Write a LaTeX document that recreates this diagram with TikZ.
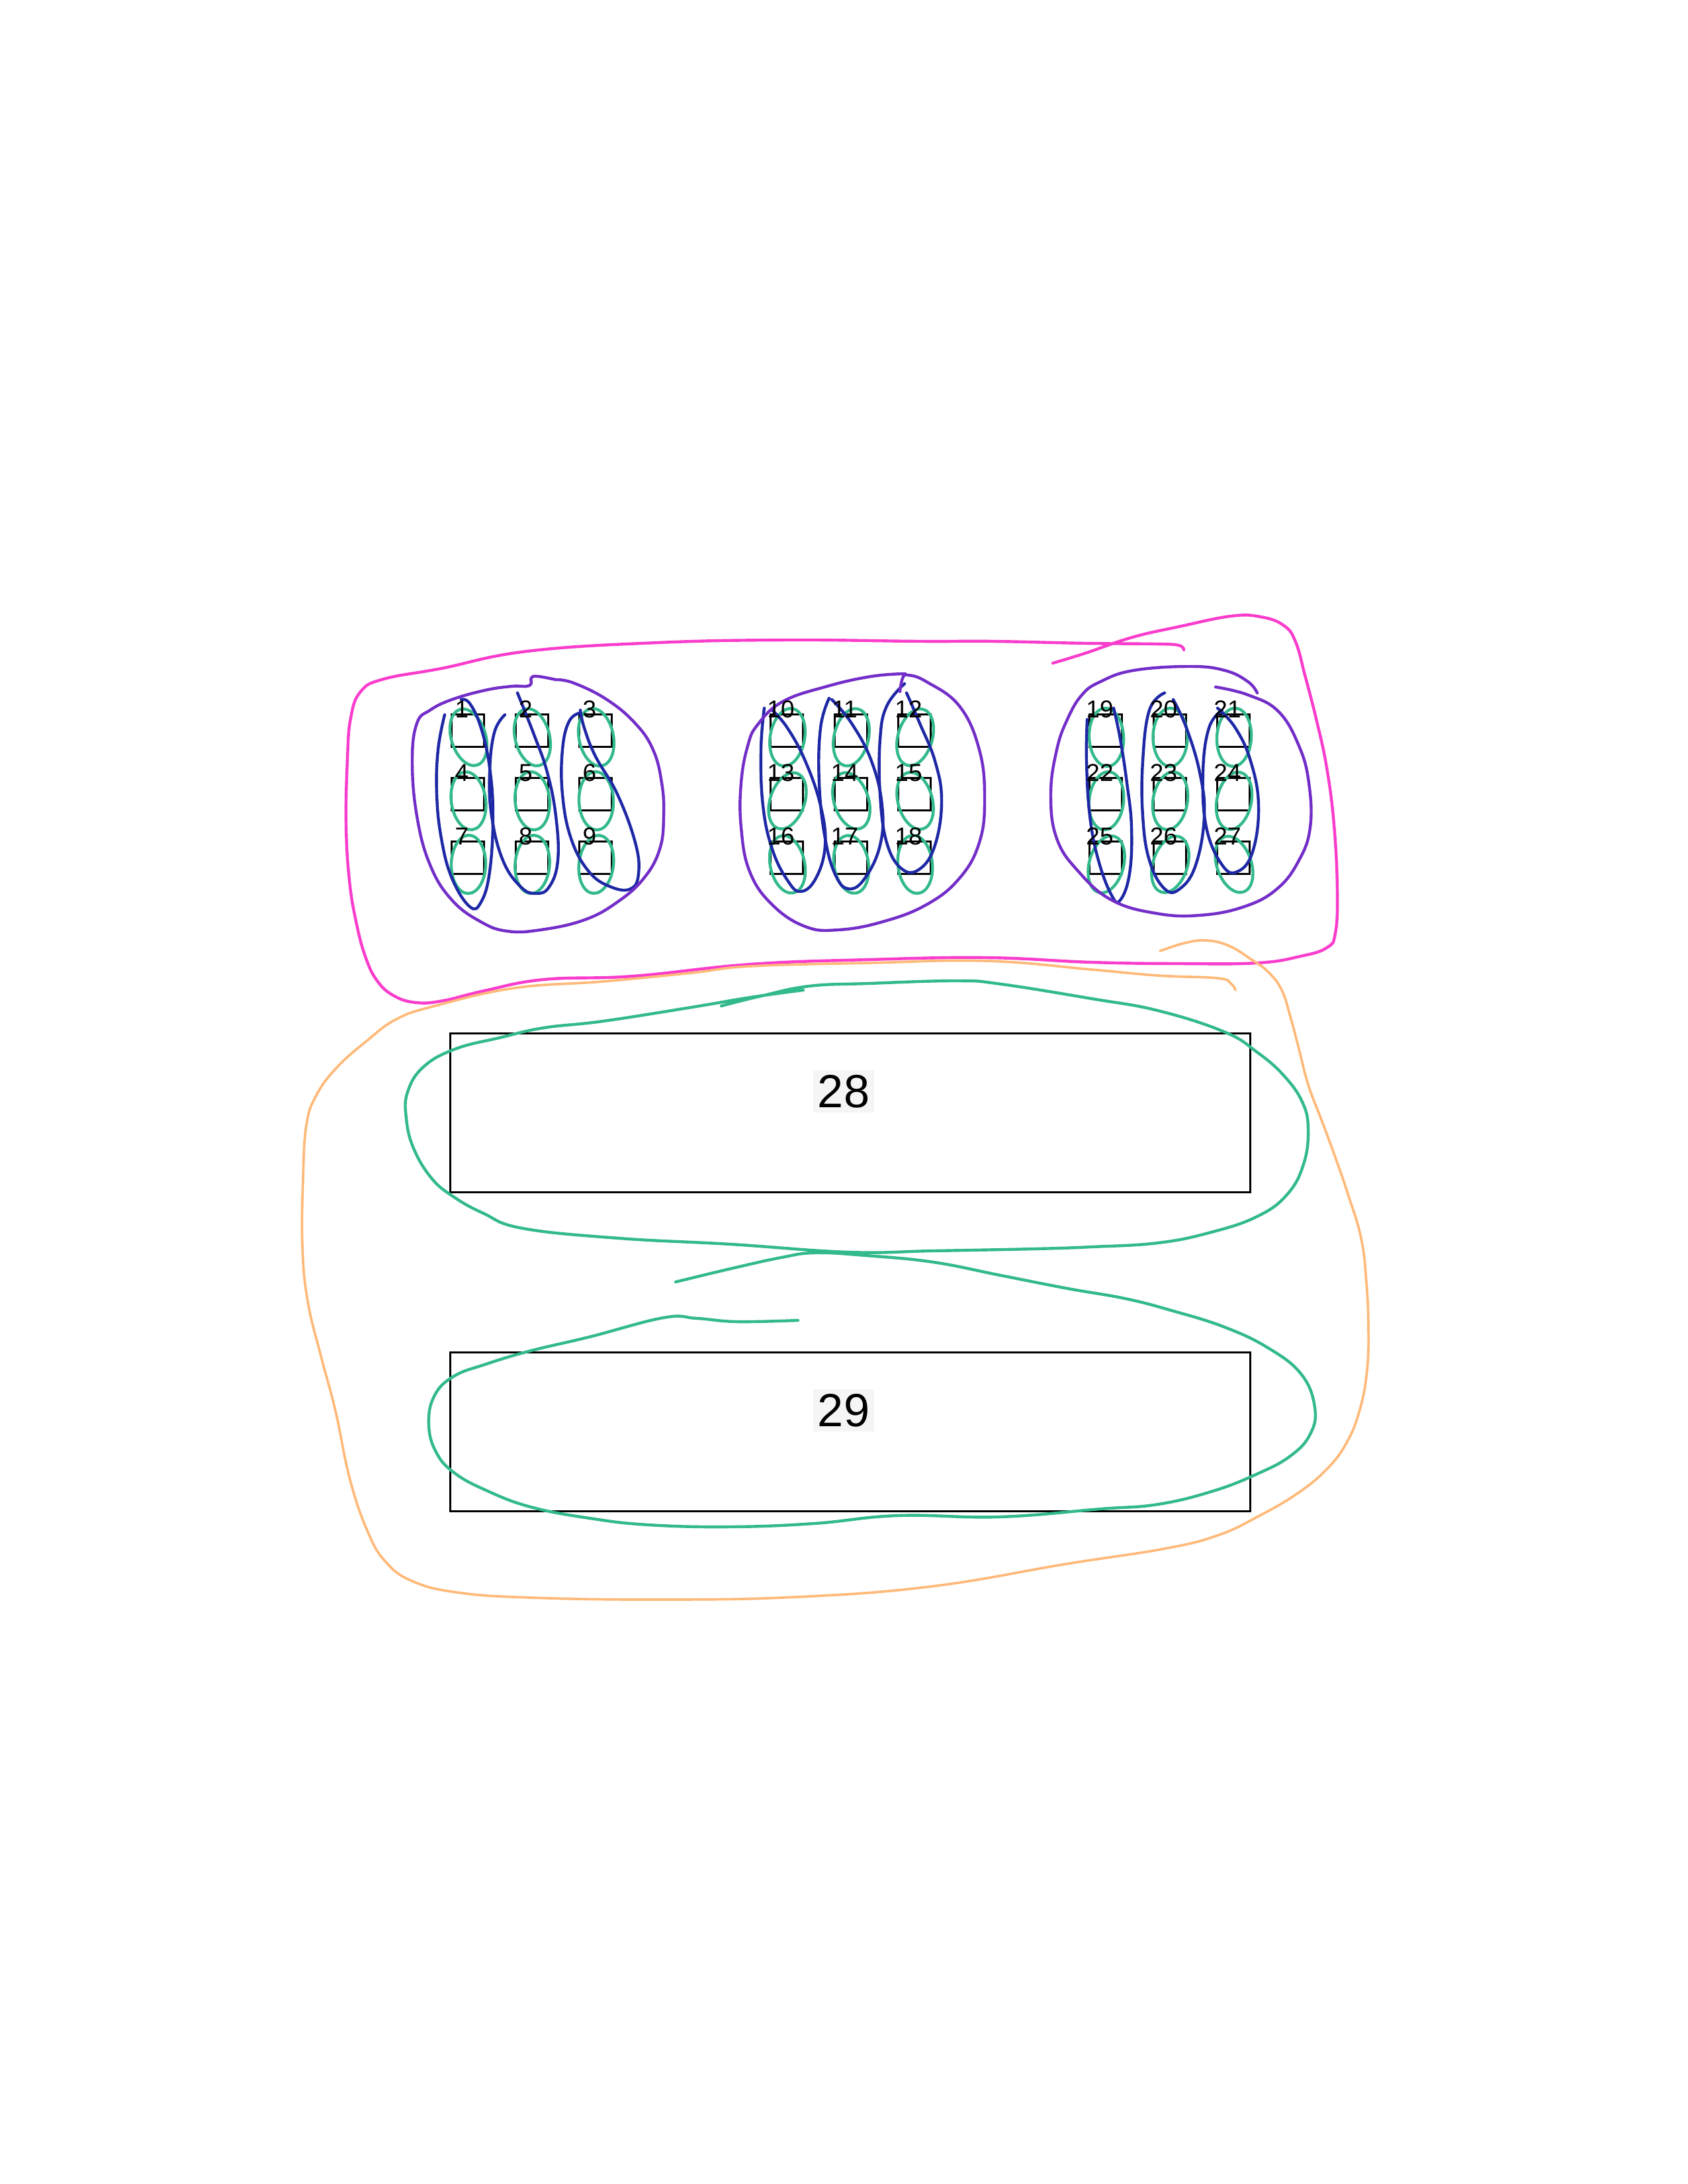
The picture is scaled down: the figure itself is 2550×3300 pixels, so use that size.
\documentclass[tikz,border=0pt]{standalone}
\usepackage{fontspec}
\setmainfont{Liberation Sans}
\definecolor{pinkc}{RGB}{250,60,205}
\definecolor{purplec}{RGB}{115,45,200}
\definecolor{bluec}{RGB}{30,40,165}
\definecolor{greenc}{RGB}{50,185,140}
\definecolor{orangec}{RGB}{255,185,120}
\begin{document}
\begin{tikzpicture}[x=0.01cm,y=-0.01cm,
  box/.style={draw=black, line width=0.9pt, minimum width=0.49cm, minimum height=0.49cm, inner sep=0pt, anchor=north west},
  bigbox/.style={draw=black, line width=0.9pt, minimum width=12.08cm, minimum height=2.4cm, inner sep=0pt, anchor=north west},
  lab/.style={font=\fontsize{10.5}{12}\selectfont, inner sep=0pt},
  biglab/.style={font=\fontsize{20}{24}\selectfont, inner sep=2pt, fill=black!4},
  pen/.style={line width=1.25pt, line cap=round, line join=round},
  pinkl/.style={pen, draw=pinkc},
  purplel/.style={pen, draw=purplec},
  bluel/.style={pen, draw=bluec},
  greenl/.style={pen, draw=greenc},
  orangel/.style={pen, draw=orangec, line width=1.05pt},
]
\fill[white] (0,0) rectangle (2550,3300);
\useasboundingbox (0,0) rectangle (2550,3300);

% big boxes
\node[bigbox] (b28) at (679,1560) {};
\node[bigbox] (b29) at (679,2042) {};

% small boxes
\foreach \cl in {0,1,2}{\foreach \r in {0,1,2}{\foreach \k in {0,1,2}{
  \pgfmathtruncatemacro{\n}{9*\cl+3*\r+\k+1}
  \pgfmathsetmacro{\xx}{681+482*\cl+96.5*\k}
  \pgfmathsetmacro{\yy}{1078+96*\r}
  \node[box] (s\n) at (\xx,\yy) {};
}}}

% green small loops
\foreach \cl in {0,1,2}{\foreach \r in {0,1,2}{\foreach \k in {0,1,2}{
  \pgfmathtruncatemacro{\n}{9*\cl+3*\r+\k+1}
  \pgfmathsetmacro{\xx}{681+482*\cl+96.5*\k+27}
  \pgfmathsetmacro{\yy}{1078+96*\r+36}
  \pgfmathsetmacro{\rot}{mod(\n*37,40)-20}
  \draw[greenl, rotate around={\rot:(\xx,\yy)}] (\xx,\yy) ellipse [x radius=0.26cm, y radius=0.44cm];
}}}

% blue column loops
\draw[bluel] plot[smooth, tension=0.7] coordinates {(672,1080) (662,1133) (660,1200) (667,1267) (683,1327) (710,1370) (727,1363) (740,1317) (745,1233) (740,1160) (727,1100) (710,1063) (697,1057)};
\draw[bluel] plot[smooth, tension=0.7] coordinates {(763,1080) (747,1107) (740,1167) (743,1233) (760,1300) (787,1340) (810,1350) (830,1340) (843,1300) (840,1233) (827,1167) (807,1110) (782,1047)};
\draw[bluel] plot[smooth, tension=0.7] coordinates {(877,1077) (860,1090) (850,1133) (850,1200) (863,1267) (890,1317) (923,1340) (953,1343) (965,1320) (960,1273) (933,1200) (900,1143) (883,1100) (877,1073)};
\draw[bluel] plot[smooth, tension=0.7] coordinates {(1155,1070) (1150,1133) (1153,1217) (1167,1283) (1190,1330) (1210,1347) (1233,1327) (1247,1277) (1240,1217) (1217,1150) (1190,1100) (1167,1073)};
\draw[bluel] plot[smooth, tension=0.7] coordinates {(1253,1055) (1240,1100) (1238,1183) (1247,1267) (1263,1323) (1283,1343) (1307,1327) (1330,1277) (1333,1217) (1317,1150) (1287,1093) (1257,1057)};
\draw[bluel] plot[smooth, tension=0.7] coordinates {(1367,1033) (1340,1067) (1330,1117) (1330,1200) (1340,1273) (1363,1313) (1390,1313) (1413,1277) (1423,1210) (1413,1150) (1390,1093) (1370,1047)};
\draw[bluel] plot[smooth, tension=0.7] coordinates {(1643,1087) (1642,1150) (1647,1233) (1660,1300) (1680,1353) (1693,1360) (1707,1320) (1710,1250) (1703,1183) (1693,1117) (1683,1070)};
\draw[bluel] plot[smooth, tension=0.7] coordinates {(1760,1047) (1737,1073) (1727,1150) (1727,1233) (1737,1300) (1760,1343) (1783,1343) (1807,1307) (1820,1233) (1813,1167) (1793,1100) (1773,1057)};
\draw[bluel] plot[smooth, tension=0.7] coordinates {(1847,1073) (1827,1100) (1818,1167) (1823,1250) (1847,1307) (1870,1317) (1893,1287) (1902,1217) (1890,1150) (1867,1100) (1840,1070)};

% purple cluster loops
\draw[purplel] plot[smooth, tension=0.7] coordinates {(840,1027) (867,1032) (917,1057) (960,1093) (987,1133) (1000,1183) (1003,1233) (997,1283) (973,1327) (933,1363) (883,1390) (817,1405) (767,1407) (727,1393) (683,1360) (650,1307) (630,1233) (623,1150) (630,1093) (650,1073) (683,1057) (733,1043) (773,1037) (800,1036) (803,1024) (813,1022) (840,1027)};
\draw[purplel] plot[smooth, tension=0.7] coordinates {(1360,1045) (1364,1025) (1372,1020) (1400,1030) (1450,1067) (1480,1133) (1488,1207) (1480,1273) (1450,1327) (1400,1367) (1333,1393) (1267,1405) (1217,1400) (1167,1367) (1133,1317) (1120,1250) (1120,1183) (1130,1127) (1145,1095) (1183,1060) (1250,1037) (1317,1022) (1368,1018)};
\draw[purplel] plot[smooth, tension=0.7] coordinates {(1837,1038) (1886,1050) (1932,1075) (1963,1127) (1978,1183) (1980,1250) (1963,1300) (1930,1343) (1880,1370) (1813,1383) (1747,1380) (1680,1360) (1630,1317) (1597,1267) (1588,1200) (1597,1133) (1613,1087) (1635,1050) (1663,1030) (1713,1013) (1798,1007) (1851,1013) (1886,1030) (1900,1047)};

% pink outer loop
\draw[pinkl] plot[smooth, tension=0.7] coordinates {(1789,982) (1781,975) (1746,973) (1640,972) (1500,969) (1390,969) (1192,967) (994,971) (797,984) (667,1010) (580,1026) (545,1045) (530,1085) (525,1147) (523,1246) (528,1330) (538,1392) (552,1445) (570,1482) (596,1505) (630,1515) (670,1512) (732,1497) (822,1480) (956,1475) (1134,1457) (1312,1450) (1491,1447) (1650,1454) (1783,1456) (1900,1455) (1965,1445) (2005,1432) (2018,1410) (2021,1345) (2016,1246) (2005,1160) (1990,1090) (1972,1020) (1958,970) (1940,945) (1905,932) (1860,931) (1781,947) (1711,963) (1640,987) (1591,1002)};

% orange loop
\draw[orangel] plot[smooth, tension=0.7] coordinates {(1753,1437) (1790,1425) (1823,1421) (1857,1429) (1890,1449) (1917,1469) (1937,1496) (1950,1536) (1963,1585) (1977,1639) (1997,1692) (2017,1746) (2037,1804) (2057,1871) (2065,1938) (2068,2005) (2066,2070) (2055,2130) (2035,2180) (2005,2220) (1960,2257) (1900,2292) (1840,2320) (1760,2340) (1612,2363) (1408,2397) (1204,2413) (1000,2417) (802,2414) (690,2406) (623,2389) (583,2360) (556,2315) (529,2236) (507,2132) (485,2049) (465,1966) (457,1883) (458,1780) (463,1700) (478,1655) (509,1613) (554,1573) (599,1540) (657,1520) (777,1493) (911,1483) (1045,1470) (1134,1460) (1312,1455) (1491,1452) (1650,1465) (1750,1474) (1840,1478) (1860,1486) (1867,1496)};

% green loop around 28
\draw[greenl] plot[smooth, tension=0.7] coordinates {(1214,1496) (1134,1507) (1045,1522) (911,1543) (822,1553) (755,1568) (688,1585) (640,1612) (616,1650) (614,1690) (625,1735) (652,1780) (685,1808) (730,1833) (790,1856) (936,1871) (1104,1880) (1283,1892) (1410,1890) (1563,1887) (1650,1884) (1750,1878) (1830,1862) (1900,1838) (1945,1805) (1970,1759) (1977,1706) (1968,1665) (1940,1625) (1900,1590) (1850,1559) (1750,1527) (1650,1509) (1513,1487) (1446,1482) (1312,1486) (1223,1490) (1150,1505) (1090,1520)};

% green loop around 29
\draw[greenl] plot[smooth, tension=0.7] coordinates {(1021,1937) (1104,1917) (1181,1900) (1232,1893) (1308,1897) (1410,1907) (1512,1927) (1614,1947) (1700,1962) (1770,1980) (1850,2005) (1917,2037) (1967,2077) (1987,2127) (1980,2167) (1950,2200) (1900,2227) (1833,2253) (1750,2273) (1663,2280) (1510,2292) (1357,2290) (1230,2302) (1102,2307) (980,2304) (891,2294) (802,2277) (735,2252) (686,2225) (659,2194) (648,2153) (656,2110) (685,2080) (735,2061) (802,2041) (891,2020) (1003,1991) (1053,1992) (1114,1997) (1206,1995)};

% labels
\foreach \cl in {0,1,2}{\foreach \r in {0,1,2}{\foreach \k in {0,1,2}{
  \pgfmathtruncatemacro{\n}{9*\cl+3*\r+\k+1}
  \pgfmathsetmacro{\xx}{681+482*\cl+96.5*\k+17}
  \pgfmathsetmacro{\yy}{1078+96*\r-6}
  \node[lab] (l\n) at (\xx,\yy) {\n};
}}}
\node[biglab] (t28) at (1275,1649) {28};
\node[biglab] (t29) at (1275,2131) {29};
\end{tikzpicture}
\end{document}
